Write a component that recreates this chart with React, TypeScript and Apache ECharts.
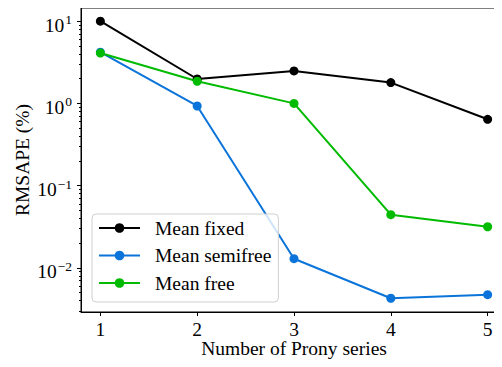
import React, { useEffect, useRef } from "react";
import * as echarts from "echarts";

const xValues = [1, 2, 3, 4, 5];
const meanFixed = [10, 1.98, 2.48, 1.79, 0.641];
const meanSemifree = [4.2, 0.93, 0.0129, 0.00426, 0.00471];
const meanFree = [4.1, 1.86, 1.0, 0.0443, 0.0316];
const seriesNames = ["Mean fixed", "Mean semifree", "Mean free"];
const majorYTicks = [0.01, 0.1, 1, 10];
const minorYTicks = [
  0.003, 0.004, 0.005, 0.006, 0.007, 0.008, 0.009,
  0.02, 0.03, 0.04, 0.05, 0.06, 0.07, 0.08, 0.09,
  0.2, 0.3, 0.4, 0.5, 0.6, 0.7, 0.8, 0.9,
  2, 3, 4, 5, 6, 7, 8, 9,
];
const supMap: Record<string, string> = { "-2": "−2", "-1": "−1", "0": "0", "1": "1" };

const FONT = "'Liberation Serif', 'DejaVu Serif', serif";
const FS = 19.5;

export default function App() {
  const ref = useRef<HTMLDivElement>(null);
  useEffect(() => {
    if (!ref.current) return;
    const chart = echarts.init(ref.current, undefined, { renderer: "svg" });
    const mk = (name: string, data: number[], color: string) => ({
      name,
      type: "line",
      data: xValues.map((x, i) => [x, data[i]]),
      lineStyle: { color, width: 2 },
      itemStyle: { color },
      symbol: "circle",
      symbolSize: 9,
      showSymbol: true,
    });
    chart.setOption({
      animation: false,
      textStyle: { fontFamily: FONT },
      grid: {
        left: 81,
        top: 8,
        right: -5,
        bottom: 55,
        containLabel: false,
        outerBoundsMode: "none",
        show: true,
        borderColor: "#000",
        borderWidth: 1,
        backgroundColor: "transparent",
      },
      legend: {
        orient: "vertical",
        left: 92,
        top: 214,
        data: seriesNames,
        itemWidth: 41,
        itemHeight: 12,
        itemGap: 7.5,
        padding: [4, 7, 9, 6],
        borderColor: "#d0d0d0",
        borderWidth: 1,
        borderRadius: 4,
        backgroundColor: "rgba(255,255,255,0.8)",
        textStyle: {
          fontFamily: FONT,
          fontSize: FS,
          color: "#000",
          lineHeight: 20,
          padding: [0, 0, 0, 10],
        },
      },
      xAxis: {
        type: "value",
        min: 0.8,
        max: 5.2,
        name: "Number of Prony series",
        nameLocation: "middle",
        nameGap: 26,
        nameMoveOverlap: false,
        nameTextStyle: { fontFamily: FONT, fontSize: FS, color: "#000" },
        axisLine: { show: true, lineStyle: { color: "#000", width: 1 } },
        axisTick: { show: true, length: 4, lineStyle: { color: "#000" }, customValues: xValues },
        axisLabel: {
          fontFamily: FONT,
          fontSize: FS,
          color: "#000",
          margin: 7,
          customValues: xValues,
          formatter: (v: number) => String(v),
        },
        splitLine: { show: false },
      },
      yAxis: [
        {
          type: "log",
          logBase: 10,
          min: 0.0029,
          max: 14.47,
          name: "RMSAPE (%)",
          nameLocation: "middle",
          nameGap: 49,
          nameMoveOverlap: false,
          nameTextStyle: { fontFamily: FONT, fontSize: FS, color: "#000" },
          axisLine: { show: true, lineStyle: { color: "#000", width: 1 } },
          axisTick: { show: true, length: 4, lineStyle: { color: "#000" }, customValues: majorYTicks },
          axisLabel: {
            customValues: majorYTicks,
            margin: 9,
            color: "#000",
            formatter: (v: number) => {
              const e = String(Math.round(Math.log10(v)));
              return "{b|10}{s|" + (supMap[e] ?? e) + "}";
            },
            rich: {
              b: { fontFamily: FONT, fontSize: FS, color: "#000", lineHeight: 20, padding: [8, 0, 0, 0] },
              s: { fontFamily: FONT, fontSize: 13.5, color: "#000", lineHeight: 14, padding: [0, 0, 3, 1] },
            },
          },
          splitLine: { show: false },
        },
        {
          type: "log",
          logBase: 10,
          min: 0.0029,
          max: 14.47,
          position: "left",
          axisLine: { show: false },
          axisTick: { show: true, length: 2, lineStyle: { color: "#000" }, customValues: minorYTicks },
          axisLabel: { show: false },
          splitLine: { show: false },
        },
      ],
      series: [
        mk(seriesNames[0], meanFixed, "#000000"),
        mk(seriesNames[1], meanSemifree, "#0a74da"),
        mk(seriesNames[2], meanFree, "#00bb00"),
      ],
    });
    return () => chart.dispose();
  }, []);
  return <div ref={ref} style={{ width: 502, height: 367, margin: -8 }} />;
}
